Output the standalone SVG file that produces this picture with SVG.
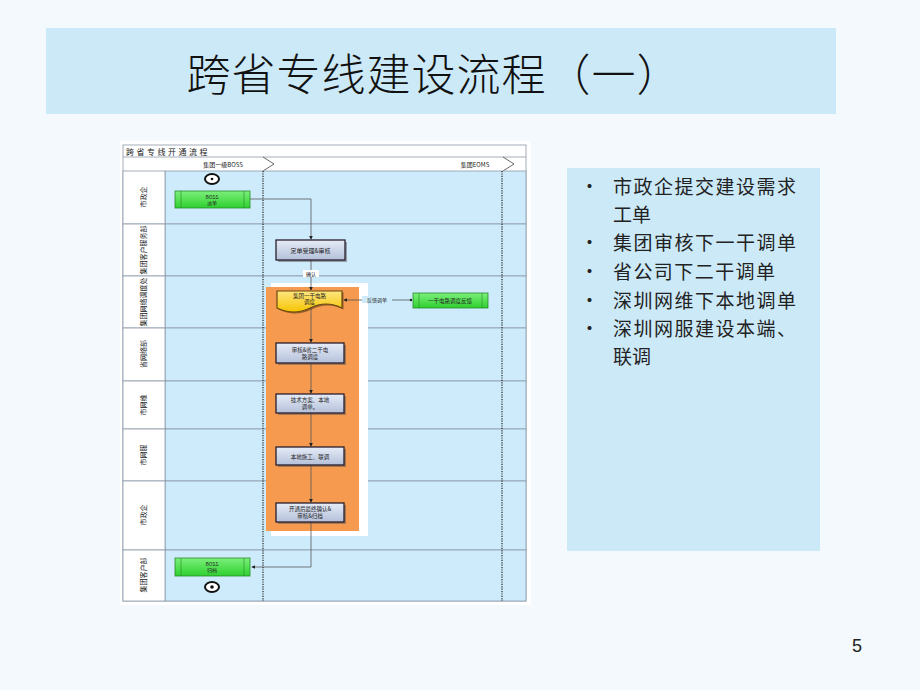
<svg xmlns="http://www.w3.org/2000/svg" width="920" height="690" viewBox="0 0 920 690">
<defs>
<linearGradient id="gBox" x1="0" y1="0" x2="0" y2="1"><stop offset="0" stop-color="#e6ecf7"/><stop offset="1" stop-color="#b4c0da"/></linearGradient>
<linearGradient id="gGreen" x1="0" y1="0" x2="0" y2="1"><stop offset="0" stop-color="#7cf07c"/><stop offset="1" stop-color="#2ed02e"/></linearGradient>
<linearGradient id="gYellow" x1="0" y1="0" x2="0" y2="1"><stop offset="0" stop-color="#ffe680"/><stop offset="1" stop-color="#f5c400"/></linearGradient>
<marker id="arr" viewBox="0 0 6 6" refX="5" refY="3" markerWidth="5" markerHeight="5" orient="auto"><path d="M0,0 L6,3 L0,6 z" fill="#222"/></marker>
<style>
.title{font-family:"Noto Sans CJK SC",sans-serif;font-size:44px;fill:#111;font-weight:300}
.bul{font-family:"Noto Sans CJK SC",sans-serif;font-size:19px;fill:#222}
.tiny{font-family:"Noto Sans CJK SC","Liberation Sans",sans-serif;font-size:6px;fill:#222;text-anchor:middle}
.lane{fill:#cdebfb;stroke:#8a9aa8;stroke-width:0.8}
.lbl{fill:#ffffff;stroke:#8a9aa8;stroke-width:0.8}
.box{fill:url(#gBox);stroke:#2a1e2e;stroke-width:1.3}
.shadow{fill:#555;opacity:0.5}
.green{fill:url(#gGreen);stroke:#2a8a2a;stroke-width:0.8}
.gl{stroke:#2a8a2a;stroke-width:0.6}
.conn{fill:none;stroke:#555;stroke-width:0.8}
.dots{stroke:#222;stroke-width:1.2;stroke-dasharray:1.2 1.2}
</style>
</defs>
<rect width="920" height="690" fill="#f3f9fd"/>
<g id="title">
<rect x="46" y="28" width="790" height="86" fill="#cce9f8"/>
<text class="title" x="434" y="91" text-anchor="middle" letter-spacing="1">跨省专线建设流程（一）</text>
</g>
<g id="bullets">
<rect x="567" y="168" width="253" height="383" fill="#cce9f8"/>
<g class="bul">
<text x="580" y="194">•</text><text x="613" y="194" textLength="183" lengthAdjust="spacing">市政企提交建设需求</text>
<text x="613" y="221.6">工单</text>
<text x="580" y="250">•</text><text x="613" y="250" textLength="183" lengthAdjust="spacing">集团审核下一干调单</text>
<text x="580" y="279">•</text><text x="613" y="279" textLength="162" lengthAdjust="spacing">省公司下二干调单</text>
<text x="580" y="308">•</text><text x="613" y="308" textLength="183" lengthAdjust="spacing">深圳网维下本地调单</text>
<text x="580" y="336">•</text><text x="613" y="336" textLength="183" lengthAdjust="spacing">深圳网服建设本端、</text>
<text x="613" y="363.6">联调</text>
</g>
</g>
<text x="857" y="652" font-family="Liberation Sans,sans-serif" font-size="18" fill="#222" text-anchor="middle">5</text>
<g id="flowchart">
<rect x="120" y="141" width="411" height="464" fill="#ffffff"/>
<rect x="123" y="145" width="403" height="456" fill="#ffffff" stroke="#8a9aa8" stroke-width="0.8"/>
<line x1="123" y1="157" x2="526" y2="157" stroke="#8a9aa8" stroke-width="0.8"/>
<text x="126" y="154.5" font-family="Noto Sans CJK SC,sans-serif" font-size="8" fill="#222" letter-spacing="2.5">跨省专线开通流程</text>
<polyline points="263,157 274,164 263,171" fill="none" stroke="#444" stroke-width="0.8"/>
<polyline points="503,157 514,164 503,171" fill="none" stroke="#444" stroke-width="0.8"/>
<text class="tiny" x="223" y="166.5">集团一级BOSS</text>
<text class="tiny" x="475" y="166.5">集团EOMS</text>
<g id="lanes">
<rect class="lane" x="165" y="171" width="361" height="53"/>
<rect class="lane" x="165" y="224" width="361" height="52"/>
<rect class="lane" x="165" y="276" width="361" height="52"/>
<rect class="lane" x="165" y="328" width="361" height="53"/>
<rect class="lane" x="165" y="381" width="361" height="48"/>
<rect class="lane" x="165" y="429" width="361" height="52"/>
<rect class="lane" x="165" y="481" width="361" height="69"/>
<rect class="lane" x="165" y="550" width="361" height="51"/>
<rect class="lbl" x="123" y="171" width="42" height="53"/>
<rect class="lbl" x="123" y="224" width="42" height="52"/>
<rect class="lbl" x="123" y="276" width="42" height="52"/>
<rect class="lbl" x="123" y="328" width="42" height="53"/>
<rect class="lbl" x="123" y="381" width="42" height="48"/>
<rect class="lbl" x="123" y="429" width="42" height="52"/>
<rect class="lbl" x="123" y="481" width="42" height="69"/>
<rect class="lbl" x="123" y="550" width="42" height="51"/>
<g class="tiny" style="font-size:7px">
<text transform="translate(146,197) rotate(-90)">市政企</text>
<text transform="translate(146,250) rotate(-90)">集团客户服务部</text>
<text transform="translate(146,302) rotate(-90)">集团网络调度处</text>
<text transform="translate(146,354) rotate(-90)">省网络部</text>
<text transform="translate(146,405) rotate(-90)">市网维</text>
<text transform="translate(146,455) rotate(-90)">市网服</text>
<text transform="translate(146,515) rotate(-90)">市政企</text>
<text transform="translate(146,575) rotate(-90)">集团客户部</text>
</g>
</g>
<line class="dots" x1="263" y1="171" x2="263" y2="601"/>
<line class="dots" x1="502" y1="171" x2="502" y2="601"/>
<rect x="271" y="283" width="97" height="253" fill="#ffffff"/>
<rect x="266" y="287" width="93" height="244" fill="#f59a4e"/>
</g>
<g id="connectors">
<polyline class="conn" points="250,199 311,199 311,239" marker-end="url(#arr)"/>
<polyline class="conn" points="311,260 311,290" marker-end="url(#arr)"/>
<rect x="303" y="270" width="16" height="7" fill="#ffffff"/>
<text class="tiny" x="311" y="276" style="font-size:5px">确认</text>
<polyline class="conn" points="311,308 311,342" marker-end="url(#arr)"/>
<polyline class="conn" points="311,363 311,393" marker-end="url(#arr)"/>
<polyline class="conn" points="311,413 311,446" marker-end="url(#arr)"/>
<polyline class="conn" points="311,465 311,502" marker-end="url(#arr)"/>
<polyline class="conn" points="311,522 311,567 252,567" marker-end="url(#arr)"/>
<polyline class="conn" points="412,300 344,300" marker-end="url(#arr)"/>
<circle cx="411" cy="300" r="1.2" fill="#222"/>
<rect x="362" y="296" width="30" height="7" fill="#cdebfb"/>
<text class="tiny" x="377" y="302" style="font-size:5px">反馈调单</text>
</g>
<g id="start">
<ellipse cx="212" cy="179" rx="7" ry="5" fill="#ffffff" stroke="#111" stroke-width="2"/>
<circle cx="212" cy="179" r="1.3" fill="#111"/>
</g>
<g id="boss-order">
<rect class="green" x="175" y="191" width="75" height="17"/>
<line class="gl" x1="181" y1="191" x2="181" y2="208"/><line class="gl" x1="244" y1="191" x2="244" y2="208"/>
<text class="tiny" x="212" y="198.5" style="font-size:5px">BOSS</text>
<text class="tiny" x="212" y="205" style="font-size:5px">派单</text>
</g>
<g id="order-review">
<rect class="shadow" x="278" y="242" width="69" height="20"/>
<rect class="box" x="276" y="240" width="69" height="20"/>
<text class="tiny" x="310.5" y="252.5">定单受理&amp;审核</text>
</g>
<g id="trunk1-dispatch">
<path d="M277,291 H342 V308 Q326,300 310,308 T277,308 Z" fill="#5a3a1a" transform="translate(1.5,1.5)" opacity="0.6"/>
<path d="M277,291 H342 V308 Q326,300 310,308 T277,308 Z" fill="url(#gYellow)" stroke="#6a4a10" stroke-width="1.2"/>
<text class="tiny" x="309.5" y="297.5" style="font-size:5.5px">集团一干电路</text>
<text class="tiny" x="309.5" y="304" style="font-size:5.5px">调度</text>
</g>
<g id="trunk1-feedback">
<rect class="green" x="413" y="293" width="75" height="15"/>
<line class="gl" x1="419" y1="293" x2="419" y2="308"/><line class="gl" x1="482" y1="293" x2="482" y2="308"/>
<text class="tiny" x="450" y="302.5" style="font-size:5.5px">一干电路调度反馈</text>
</g>
<g id="trunk2-dispatch">
<rect class="shadow" x="278" y="345" width="68" height="20"/>
<rect class="box" x="276" y="343" width="68" height="20"/>
<text class="tiny" x="310" y="351.5" style="font-size:5.5px">审核&amp;省二干电</text>
<text class="tiny" x="310" y="358.5" style="font-size:5.5px">路调度</text>
</g>
<g id="local-dispatch">
<rect class="shadow" x="278" y="396" width="68" height="19"/>
<rect class="box" x="276" y="394" width="68" height="19"/>
<text class="tiny" x="310" y="402" style="font-size:5.5px">技术方案、本地</text>
<text class="tiny" x="310" y="409" style="font-size:5.5px">调单。</text>
</g>
<g id="local-build">
<rect class="shadow" x="278" y="449" width="68" height="18"/>
<rect class="box" x="276" y="447" width="68" height="18"/>
<text class="tiny" x="310" y="458.5" style="font-size:5.5px">本地施工、联调</text>
</g>
<g id="confirm-archive">
<rect class="shadow" x="278" y="505" width="68" height="19"/>
<rect class="box" x="276" y="503" width="68" height="19"/>
<text class="tiny" x="310" y="511" style="font-size:5.5px">开通后最终确认&amp;</text>
<text class="tiny" x="310" y="518" style="font-size:5.5px">审核&amp;归档</text>
</g>
<g id="boss-archive">
<rect class="green" x="175" y="558" width="75" height="18"/>
<line class="gl" x1="181" y1="558" x2="181" y2="576"/><line class="gl" x1="244" y1="558" x2="244" y2="576"/>
<text class="tiny" x="212" y="565.5" style="font-size:5px">BOSS</text>
<text class="tiny" x="212" y="572" style="font-size:5px">归档</text>
</g>
<g id="end">
<ellipse cx="212" cy="587" rx="7" ry="5" fill="#ffffff" stroke="#111" stroke-width="2"/>
<circle cx="212" cy="587" r="1.8" fill="#111"/>
</g>
</svg>
